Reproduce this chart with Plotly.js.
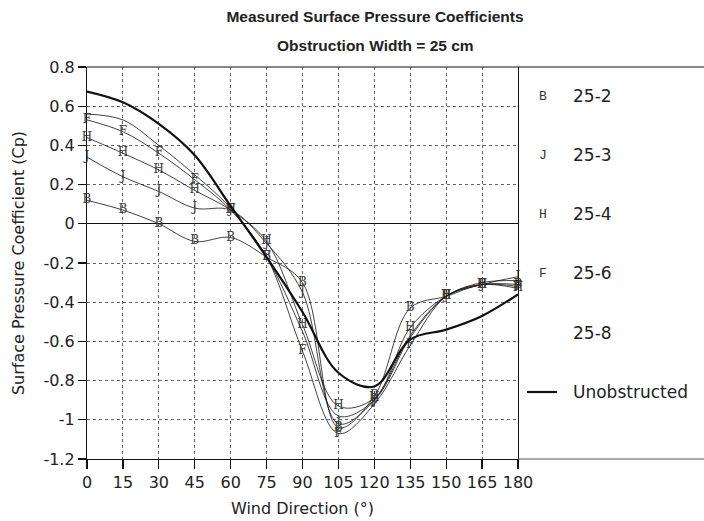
<!DOCTYPE html>
<html>
<head>
<meta charset="utf-8">
<script src="https://cdn.plot.ly/plotly-3.0.1.min.js"></script>
<style>html,body{margin:0;padding:0;background:#fff;}#chart{width:704px;height:521px;}</style>
</head>
<body>
<div id="chart"></div>
<script>
// Wind direction (degrees)
const windDirection = [0, 15, 30, 45, 60, 75, 90, 105, 120, 135, 150, 165, 180];

// Measured surface pressure coefficients (Cp)
const cp25_2 = [0.12, 0.07, 0.00, -0.09, -0.07, -0.17, -0.30, -1.04, -0.88, -0.43, -0.37, -0.31, -0.31];
const cp25_3 = [0.34, 0.24, 0.165, 0.08, 0.07, -0.10, -0.35, -1.02, -0.90, -0.57, -0.37, -0.31, -0.27];
const cp25_4 = [0.44, 0.36, 0.275, 0.17, 0.07, -0.09, -0.515, -0.93, -0.89, -0.53, -0.37, -0.31, -0.33];
const cp25_6 = [0.53, 0.47, 0.36, 0.225, 0.07, -0.17, -0.65, -1.07, -0.92, -0.62, -0.37, -0.31, -0.32];
const cp25_8 = [0.56, 0.53, 0.40, 0.25, 0.08, -0.17, -0.55, -0.98, -0.90, -0.58, -0.37, -0.30, -0.29];
const cpUnobstructed = [0.675, 0.62, 0.51, 0.35, 0.09, -0.17, -0.45, -0.76, -0.83, -0.59, -0.54, -0.47, -0.36];

const seriesNames = ['25-2', '25-3', '25-4', '25-6', '25-8', 'Unobstructed'];
const markerLetters = ['B', 'J', 'H', 'F', '', ''];
const seriesValues = [cp25_2, cp25_3, cp25_4, cp25_6, cp25_8, cpUnobstructed];

const xTicks = [0, 15, 30, 45, 60, 75, 90, 105, 120, 135, 150, 165, 180];
const yTicks = [0.8, 0.6, 0.4, 0.2, 0, -0.2, -0.4, -0.6, -0.8, -1, -1.2];

const traces = seriesValues.map((vals, i) => {
  const isUnob = seriesNames[i] === 'Unobstructed';
  const letter = markerLetters[i];
  return {
    x: windDirection,
    y: vals,
    name: seriesNames[i],
    mode: letter ? 'lines+text' : 'lines',
    text: letter ? windDirection.map(() => letter) : undefined,
    textposition: 'middle center',
    textfont: {family: 'DejaVu Serif, serif', size: 12, color: '#3a3a3a'},
    line: {color: '#111', width: isUnob ? 2.2 : 0.8, shape: 'spline', smoothing: 1},
    cliponaxis: false,
    hoverinfo: 'x+y+name'
  };
});

const plotL = 87, plotR = 518, plotT = 67, plotB = 459, W = 704;
const pw = plotR - plotL, ph = plotB - plotT;
const px = v => (v - plotL) / pw;
const py = v => (plotB - v) / ph;

const legendY = [96, 155, 214, 273, 333, 392];
const annotations = [];
seriesNames.forEach((nm, i) => {
  if (markerLetters[i]) {
    annotations.push({xref: 'paper', yref: 'paper', x: px(543), y: py(legendY[i]), text: markerLetters[i],
      showarrow: false, xanchor: 'center', yanchor: 'middle',
      font: {family: 'Liberation Mono, monospace', size: 13, color: '#333'}});
  }
  annotations.push({xref: 'paper', yref: 'paper', x: px(571), y: py(legendY[i]), text: nm,
    showarrow: false, xanchor: 'left', yanchor: 'middle',
    font: {family: 'DejaVu Sans, sans-serif', size: 17, color: '#222'}});
});
annotations.push({xref: 'paper', yref: 'paper', x: px(375), y: py(45), text: '<b>Obstruction Width = 25 cm</b>',
  showarrow: false, xanchor: 'center', yanchor: 'middle',
  font: {family: 'Liberation Sans, Arial, sans-serif', size: 15.5, color: '#222'}});

const shapes = [
  {type: 'line', xref: 'paper', yref: 'paper', x0: 0, x1: px(W), y0: 1, y1: 1, line: {color: '#111', width: 1.2}},
  {type: 'line', xref: 'paper', yref: 'paper', x0: 1, x1: px(W), y0: 0, y1: 0, line: {color: '#555', width: 1.2}},
  {type: 'line', xref: 'paper', yref: 'paper', x0: px(527), x1: px(557), y0: py(legendY[5]), y1: py(legendY[5]), line: {color: '#111', width: 2.2}}
];

const layout = {
  width: 704, height: 521,
  margin: {l: plotL, r: W - plotR, t: plotT, b: 521 - plotB, pad: 0},
  paper_bgcolor: '#fff', plot_bgcolor: '#fff',
  showlegend: false,
  title: {text: '<b>Measured Surface Pressure Coefficients</b>', xref: 'paper', x: px(375), xanchor: 'center',
    yref: 'container', y: 1 - 17 / 521, yanchor: 'middle',
    font: {family: 'Liberation Sans, Arial, sans-serif', size: 15.5, color: '#222'}},
  font: {family: 'DejaVu Sans, sans-serif', size: 16, color: '#222'},
  xaxis: {
    range: [0, 180], tickvals: xTicks, ticktext: xTicks.map(String),
    ticks: 'outside', ticklen: 9, tickwidth: 1.2, tickcolor: '#111',
    showline: true, linecolor: '#111', linewidth: 1.2,
    showgrid: true, gridcolor: '#666', griddash: 'dot', gridwidth: 1,
    zeroline: false,
    tickfont: {family: 'DejaVu Sans, sans-serif', size: 16, color: '#222'},
    title: {text: 'Wind Direction (°)', standoff: 11, font: {family: 'DejaVu Sans, sans-serif', size: 16, color: '#222'}}
  },
  yaxis: {
    range: [-1.2, 0.8], tickvals: yTicks, ticktext: yTicks.map(v => String(v)),
    ticks: 'outside', ticklen: 8, tickwidth: 1.2, tickcolor: '#111',
    showline: true, linecolor: '#111', linewidth: 1.2, mirror: true,
    showgrid: true, gridcolor: '#666', griddash: 'dot', gridwidth: 1,
    zeroline: true, zerolinecolor: '#111', zerolinewidth: 1.2,
    tickfont: {family: 'DejaVu Sans, sans-serif', size: 16, color: '#222'},
    title: {text: 'Surface Pressure Coefficient (Cp)', standoff: 14, font: {family: 'DejaVu Sans, sans-serif', size: 16, color: '#222'}}
  },
  annotations: annotations,
  shapes: shapes
};

Plotly.newPlot('chart', traces, layout, {staticPlot: true, displayModeBar: false});
</script>
</body>
</html>
